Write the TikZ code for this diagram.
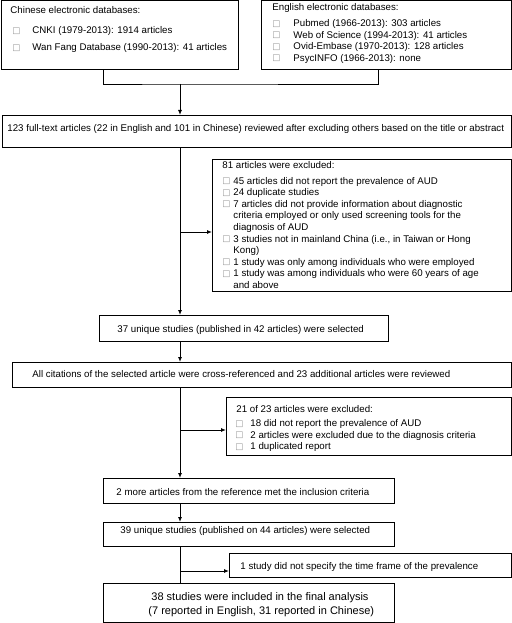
\documentclass[tikz,border=0pt]{standalone}
\usepackage{fontspec}
\setmainfont{Liberation Sans}
\newfontfamily\symfont{DejaVu Sans}
\usepackage{xcolor}
\usetikzlibrary{arrows.meta, positioning}
\newcommand{\chkbox}{\raisebox{0.3bp}{\symfont\fontsize{8.6bp}{8.6bp}\selectfont\color{gray!85}□}}

\begin{document}
\begin{tikzpicture}[
        x=1bp, y=-1bp,
        line width=0.9bp,
        >={Latex[length=5bp, width=4bp]},
        box/.style={draw, inner sep=0pt, anchor=north west,
            font=\fontsize{9.7bp}{11.6bp}\selectfont},
    ]
    \useasboundingbox (0,0) rectangle (512,623);

    % search sources
    \node[box] (chinese) at (1,0.5) {\parbox[c][68.5bp][t]{237bp}{%
        \rule{0pt}{13bp}\hspace*{9bp}Chinese electronic databases:\\[8.4bp]
        \hspace*{11bp}\makebox[20bp][l]{\chkbox}CNKI (1979-2013): 1914 articles\\[5.4bp]
        \hspace*{11bp}\makebox[20bp][l]{\chkbox}Wan Fang Database (1990-2013): 41 articles}};
    \node[box] (english) at (261,0.5) {\parbox[c][68.5bp][t]{250bp}{%
        \rule{0pt}{9.5bp}\hspace*{11bp}English electronic databases:\\[4.4bp]
        \hspace*{11bp}\makebox[21bp][l]{\chkbox}Pubmed (1966-2013): 303 articles\\
        \hspace*{11bp}\makebox[21bp][l]{\chkbox}Web of Science (1994-2013): 41 articles\\
        \hspace*{11bp}\makebox[21bp][l]{\chkbox}Ovid-Embase (1970-2013): 128 articles\\
        \hspace*{11bp}\makebox[21bp][l]{\chkbox}PsycINFO (1966-2013): none}};

    \node[box] (fulltext) at (2,115) {\parbox[c][32bp][t]{509bp}{%
        \rule{0pt}{16.5bp}\hspace*{5bp}123 full-text articles (22 in English and 101 in Chinese) reviewed after excluding others based on the title or abstract}};

    % first exclusion
    \node[box] (excluded) at (212,159) {\parbox[c][132bp][t]{299bp}{%
        \rule{0pt}{9.5bp}\hspace*{10bp}81 articles were excluded:\\[3.5bp]
        \hspace*{10bp}\makebox[11bp][l]{\chkbox}45 articles did not report the prevalence of AUD\\
        \hspace*{10bp}\makebox[11bp][l]{\chkbox}24 duplicate studies\\
        \hspace*{10bp}\makebox[11bp][l]{\chkbox}7 articles did not provide information about diagnostic\\
        \hspace*{21bp}criteria employed or only used screening tools for the\\
        \hspace*{21bp}diagnosis of AUD\\
        \hspace*{10bp}\makebox[11bp][l]{\chkbox}3 studies not in mainland China (i.e., in Taiwan or Hong\\
        \hspace*{21bp}Kong)\\
        \hspace*{10bp}\makebox[11bp][l]{\chkbox}1 study was only among individuals who were employed\\
        \hspace*{10bp}\makebox[11bp][l]{\chkbox}1 study was among individuals who were 60 years of age\\
        \hspace*{21bp}and above}};

    \node[box] (unique) at (99,315) {\parbox[c][26bp][t]{289bp}{%
        \rule{0pt}{17.5bp}\hspace*{18bp}37 unique studies (published in 42 articles) were selected}};
    \node[box] (crossref) at (12,362) {\parbox[c][25bp][t]{499bp}{%
        \rule{0pt}{15.5bp}\hspace*{20bp}All citations of the selected article were cross-referenced and 23 additional articles were reviewed}};

    % second exclusion
    \node[box] (excludedb) at (226,397) {\parbox[c][58bp][t]{285bp}{%
        \rule{0pt}{15bp}\hspace*{10bp}21 of 23 articles were excluded:\\[2.4bp]
        \hspace*{9bp}\makebox[15bp][l]{\chkbox}18 did not report the prevalence of AUD\\
        \hspace*{9bp}\makebox[15bp][l]{\chkbox}2 articles were excluded due to the diagnosis criteria\\
        \hspace*{9bp}\makebox[15bp][l]{\chkbox}1 duplicated report}};

    \node[box] (moreref) at (103,478) {\parbox[c][25bp][t]{291bp}{%
        \rule{0pt}{17bp}\hspace*{13bp}2 more articles from the reference met the inclusion criteria}};
    \node[box] (selected) at (103,522) {\parbox[c][24bp][t]{291bp}{%
        \rule{0pt}{11.5bp}\hspace*{17bp}39 unique studies (published on 44 articles) were selected}};
    \node[box] (timeframe) at (229,553) {\parbox[c][24bp][t]{282bp}{%
        \rule{0pt}{16bp}\hspace*{11bp}1 study did not specify the time frame of the prevalence}};
    \node[box] (final) at (103,583) {\parbox[c][38.5bp][t]{291bp}{%
        \fontsize{11bp}{14.5bp}\selectfont
        \rule{0pt}{17bp}\hspace*{48bp}38 studies were included in the final analysis\\
        \hspace*{45bp}(7 reported in English, 31 reported in Chinese)}};

    % connectors
    \coordinate (merge) at (180,84);
    \coordinate (leftdrop) at (103,0);
    \coordinate (rightdrop) at (378,0);
    \coordinate (split1) at (180,232);
    \coordinate (split2) at (180,430);
    \coordinate (split3) at (180,571);

    \draw (chinese.south -| leftdrop) |- (merge) -| (english.south -| rightdrop);
    \draw[->] (merge) -- (fulltext.north -| merge);
    \draw[->] (fulltext.south -| merge) -- (unique.north -| merge);
    \draw[->] (split1) -- (split1 -| excluded.west);
    \draw[->] (unique.south -| merge) -- (crossref.north -| merge);
    \draw[->] (crossref.south -| merge) -- (moreref.north -| merge);
    \draw[->] (split2) -- (split2 -| excludedb.west);
    \draw[->] (moreref.south -| merge) -- (selected.north -| merge);
    \draw (selected.south -| merge) -- (final.north -| merge);
    \draw[->] (split3) -- (split3 -| timeframe.west);
\end{tikzpicture}
\end{document}
